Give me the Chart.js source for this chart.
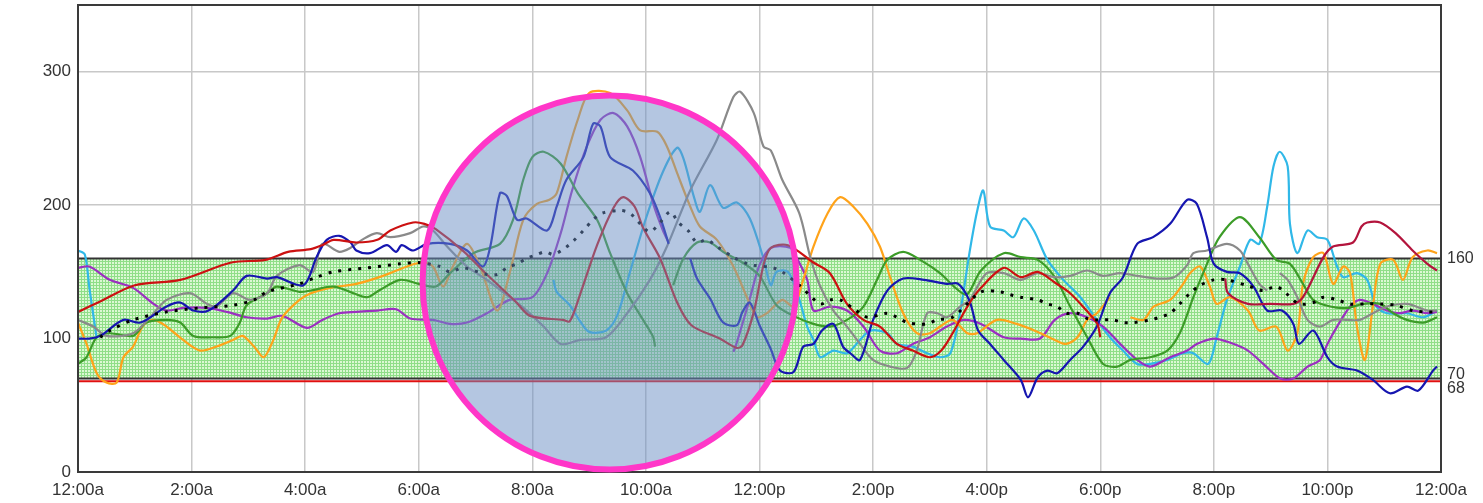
<!DOCTYPE html>
<html>
<head>
<meta charset="utf-8">
<script src="https://cdn.jsdelivr.net/npm/chart.js@4.4.1/dist/chart.umd.min.js"></script>
<style>
  html, body { margin: 0; padding: 0; background: #fff; }
  #wrap { width: 1483px; height: 503px; position: relative; }
</style>
</head>
<body>
<div id="wrap"><canvas id="GlucoseChart"></canvas></div>
<script>
'use strict'

// tick labels
var xTickLabels = ['12:00a', '2:00a', '4:00a', '6:00a', '8:00a', '10:00a', '12:00p', '2:00p', '4:00p', '6:00p', '8:00p', '10:00p', '12:00a'];
var yTickValues = [0, 100, 200, 300];
var targetHigh = 160;
var targetLow = 70;
var lowLimit = 68;

// highlight circle (hour, mg/dL)
var circleHour = 9.36;
var circleValue = 142;

// series: hours of day + readings (null = gap)
var redHours = [0, 0.4, 1.0, 1.8, 2.7, 3.3, 3.7, 4.1, 4.3, 4.5, 4.9, 5.27, 5.5, 5.9, 6.1, 6.3, 6.8, 7.2, 7.7, 7.96, 8.54, 8.66, 8.84, 9.14, 9.43, 9.6, 9.8, 9.95, 10.25, 10.55, 10.8, 11.3, 11.6, 11.7, 11.9, 12.07, 12.2, 12.5, 12.95, 13.24, 13.54, 13.83, 14.12, 14.42, 14.7, 15.0, 15.2, 15.4, 15.66, 15.9, 16.3, 16.6, 16.9, 17.2, 17.47, 17.8, 17.95, 18.0];
var redValues = [120, 128, 140, 144, 157, 159, 165, 167, 170, 174, 172, 174, 181, 187, 186, 182, 165, 148, 128, 117, 114, 113, 133, 170, 198, 206, 199, 183, 160, 127, 110, 100, 93, 95, 120, 155, 168, 170, 157, 149, 126, 114, 109, 96, 91, 86, 91, 104, 124, 138, 153, 146, 150, 142, 134, 119, 111, 101];

var crimsonHours = [20.2, 20.25, 20.6, 21.0, 21.4, 21.57, 21.93, 22.1, 22.45, 22.6, 22.7, 22.93, 23.2, 23.5, 23.76, 23.93];
var crimsonValues = [145, 134, 126, 126, 126, 131, 161, 169, 172, 184, 187, 187, 179, 166, 156, 151];

var blueHours = [0, 0.2, 0.39, 0.8, 1.1, 1.56, 1.8, 2.03, 2.3, 2.73, 2.97, 3.33, 3.5, 3.97, 4.2, 4.38, 4.6, 4.8, 4.9, 5.14, 5.44, 5.6, 5.7, 5.9, 6.15, 6.55, 6.85, 7.13, 7.26, 7.43, 7.55, 7.73, 7.9, 8.26, 8.43, 8.6, 8.9, 9.07, 9.2, 9.37, 9.77, 10.07, 10.25, 10.4, 10.6, 10.78, 10.9, 11.13, 11.36, 11.6, 11.7, 11.83, 12.0, 12.2, 12.36, 12.6, 12.77, 12.95, 13.1, 13.3, 13.47, 13.6, 13.77, 14.0, 14.25, 14.53, 14.9, 15.3, 15.5, 15.7, 15.85, 16.06, 16.3, 16.6, 16.73, 16.9, 17.07, 17.24, 17.47, 17.7, 17.94, 18.17, 18.4, 18.65, 18.93, 19.23, 19.53, 19.7, 19.88, 20.0, 20.23, 20.46, 20.7, 20.94, 21.2, 21.4, 21.5, 21.75, 22.0, 22.17, 22.52, 22.8, 23.1, 23.4, 23.6, 23.86, 23.93];
var blueValues = [100, 100, 102, 114, 112, 124, 127, 121, 121, 136, 147, 145, 146, 140, 161, 174, 177, 172, 166, 164, 170, 165, 170, 166, 171, 171, 166, 154, 169, 209, 207, 189, 190, 181, 199, 219, 236, 261, 259, 236, 226, 209, 191, 171, null, 160, 145, 130, 112, 110, 120, 127, 110, 92, 76, 75, 94, 96, 106, 111, 94, 89, 84, 114, 136, 145, 144, 141, 141, 128, 106, 96, 84, 69, 56, 71, 76, 74, 84, 94, 109, 134, 146, 171, 176, 186, 204, 201, 176, 156, 150, 149, 139, 121, 121, 111, 96, 106, 86, 79, 76, 69, 59, 64, 61, 76, 79];

var grayHours = [0, 0.27, 0.5, 0.97, 1.27, 1.56, 1.97, 2.27, 2.44, 2.73, 3.03, 3.33, 3.5, 3.9, 4.14, 4.3, 4.6, 4.8, 5.0, 5.26, 5.5, 5.85, 6.08, 6.25, 6.5, 6.85, 7.2, 7.6, 7.9, 8.2, 8.5, 8.84, 9.3, 9.67, 10.07, 10.37, 10.78, 11.25, 11.54, 11.66, 11.9, 12.07, 12.2, 12.4, 12.7, 12.9, 13.07, 13.3, 13.54, 13.77, 14.0, 14.3, 14.6, 14.77, 14.95, 15.13, 15.3, 15.53, 15.7, 16.0, 16.3, 16.6, 16.9, 17.2, 17.47, 17.77, 18.05, 18.35, 18.65, 19.0, 19.3, 19.53, 19.64, 19.88, 20.23, 20.46, 20.6, 20.8, 20.94, 21.05, 21.16, 21.3, 21.47, 21.65, 21.87, 22.1, 22.35, 22.57, 22.8, 23.05, 23.4, 23.76, 23.93];
var grayValues = [114, 109, 102, 104, 116, 129, 134, 126, 124, 134, 129, 134, 147, 155, 150, 171, 165, 168, 174, 179, 176, 179, 184, 181, 169, 154, 144, 131, 121, 109, 96, 99, 101, 119, 144, 169, 211, 249, 281, 285, 269, 244, 241, 219, 194, 160, 139, 121, 109, 96, 84, 79, 78, 91, 119, 119, 116, 124, 129, 149, 149, 144, 149, 146, 147, 151, 147, 149, 147, 145, 146, 155, 164, 166, 171, 166, 156, 141, 136, null, 149, 144, 131, 114, 109, 114, 114, 114, 119, 124, 126, 121, 121];

var greenHours = [0, 0.15, 0.33, 0.56, 0.97, 1.2, 1.56, 1.8, 2.03, 2.38, 2.68, 2.85, 2.97, 3.33, 3.5, 3.9, 4.1, 4.5, 4.85, 5.1, 5.3, 5.67, 6.0, 6.3, 6.55, 6.96, 7.43, 7.66, 7.84, 8.0, 8.2, 8.5, 8.8, 9.14, 9.37, 9.67, 9.95, 10.13, 10.16, 10.3, 10.48, 10.66, 10.9, 11.13, 11.36, 11.7, 12.0, 12.3, 12.6, 12.95, 13.24, 13.54, 13.83, 14.07, 14.25, 14.53, 14.83, 15.18, 15.45, 15.65, 15.9, 16.3, 16.6, 16.9, 17.2, 17.47, 17.77, 18.05, 18.3, 18.53, 18.88, 19.18, 19.4, 19.64, 19.88, 20.1, 20.46, 20.8, 21.1, 21.34, 21.57, 21.75, 22.05, 22.35, 22.63, 22.93, 23.16, 23.4, 23.69, 23.93];
var greenValues = [81, 86, 101, 104, 102, 112, 114, 112, 102, 101, 102, 112, 125, 134, 139, 135, 136, 139, 134, 131, 136, 144, 141, 139, 149, 164, 171, 189, 219, 236, 240, 231, 209, 189, 164, 134, 114, 101, 94, null, 140, 160, 172, 172, 165, 157, 147, 125, 117, 111, 109, 114, 124, 144, 159, 165, 159, 149, 138, 133, 151, 164, 161, 159, 146, 124, 101, 81, 79, 84, 86, 91, 104, 131, 156, 176, 191, 176, 159, 156, 141, 129, 124, 123, 126, 126, 119, 114, 112, 116];

var orangeHours = [0, 0.15, 0.33, 0.5, 0.68, 0.8, 0.97, 1.15, 1.33, 1.56, 1.85, 2.15, 2.44, 2.73, 2.9, 3.1, 3.27, 3.44, 3.6, 3.9, 4.1, 4.44, 4.9, 5.37, 5.85, 6.08, 6.25, 6.43, 6.6, 6.85, 7.08, 7.38, 7.6, 7.84, 8.08, 8.3, 8.43, 8.6, 8.8, 9.0, 9.37, 9.67, 9.9, 10.2, 10.37, 10.55, 10.78, 10.95, 11.25, 11.54, 11.83, 11.96, 12.13, 12.4, 12.6, 12.77, 12.95, 13.2, 13.42, 13.65, 13.9, 14.12, 14.3, 14.53, 14.77, 15.0, 15.18, 15.4, 15.66, 15.83, 16.18, 16.53, 16.9, 17.2, 17.4, 17.6, 17.77, 17.94, 18.17, 18.35, 18.53, 18.76, 18.94, 19.23, 19.46, 19.58, 19.76, 19.93, 20.05, 20.28, 20.6, 20.8, 21.1, 21.3, 21.47, 21.57, 21.75, 21.93, 22.1, 22.28, 22.4, 22.52, 22.66, 22.8, 22.93, 23.16, 23.33, 23.5, 23.76, 23.93];
var orangeValues = [112, 96, 74, 67, 67, 86, 94, 110, 114, 109, 99, 91, 94, 99, 102, 94, 86, 99, 116, 129, 134, 138, 141, 147, 155, 157, 154, 139, 154, 171, 154, 121, 149, 189, 201, 204, 209, 236, 264, 284, 284, 271, 256, 255, 244, 224, 199, 184, 174, 154, 126, 116, 119, 129, 124, 144, 169, 194, 206, 199, 186, 169, 146, 119, 104, 104, 109, 114, 104, 104, 114, 111, 105, 99, 96, 101, 114, 119, 131, null, 116, 114, 124, 129, 141, 149, 154, 139, 126, 131, 121, 106, 109, 91, 104, 141, 161, 164, 141, 154, 149, 109, 84, 124, 156, 159, 144, 161, 166, 164];

var purpleHours = [0, 0.2, 0.56, 0.97, 1.33, 1.56, 1.85, 2.27, 2.62, 2.97, 3.33, 3.6, 4.03, 4.3, 4.6, 4.9, 5.27, 5.6, 5.85, 6.25, 6.55, 6.85, 7.2, 7.6, 8.0, 8.26, 8.5, 8.7, 8.96, 9.2, 9.43, 9.67, 9.9, 10.13, 10.3, 10.4, 11.0, 11.54, 11.6, 11.83, 12.0, 12.2, 12.54, 12.66, 12.84, 12.95, 13.24, 13.54, 13.83, 14.12, 14.42, 14.7, 15.0, 15.3, 15.6, 15.9, 16.3, 16.6, 16.94, 17.2, 17.47, 17.77, 18.05, 18.35, 18.65, 18.88, 19.23, 19.53, 19.7, 20.0, 20.28, 20.6, 20.87, 21.17, 21.4, 21.65, 21.87, 22.0, 22.17, 22.4, 22.57, 22.8, 23.05, 23.27, 23.5, 23.76, 23.93];
var purpleValues = [153, 154, 144, 138, 126, 121, 123, 123, 120, 116, 115, 117, 108, 114, 119, 120, 121, 122, 115, 114, 111, 112, 119, 129, 131, 149, 179, 211, 244, 264, 269, 259, 236, 201, 181, 172, null, 90, 97, 130, 155, 168, 168, 160, 144, 121, 124, 121, 109, 91, 89, 96, 101, 109, 114, 111, 101, 100, 100, 114, 119, 116, 109, 96, 84, 79, 86, 91, 96, 100, 97, 91, 81, 70, 70, 79, 84, 96, 109, 124, 129, 126, 121, 119, 121, 119, 120];

var cyanHours = [0, 0.12, 0.2, 0.33, 4.0, 8.37, 8.43, 8.66, 8.84, 9.0, 9.3, 9.5, 9.72, 10.0, 10.3, 10.55, 10.66, 10.84, 10.95, 11.13, 11.36, 11.6, 11.83, 12.07, 12.2, 12.3, 12.5, 12.66, 12.84, 12.95, 13.07, 13.3, 13.54, 13.77, 13.95, 14.25, 14.42, 14.7, 14.95, 15.18, 15.36, 15.53, 15.7, 15.83, 15.94, 16.06, 16.3, 16.47, 16.65, 16.83, 17.07, 17.35, 17.65, 17.94, 18.17, 18.4, 18.65, 18.88, 19.18, 19.46, 19.64, 19.9, 20.05, 20.23, 20.46, 20.64, 20.8, 20.94, 21.05, 21.16, 21.3, 21.34, 21.47, 21.65, 21.82, 22.0, 22.17, 22.28, 22.52, 22.7, 22.86, 23.05, 23.4, 23.69, 23.93];
var cyanValues = [166, 163, 138, 100, null, 144, 135, 125, 113, 105, 106, 118, 150, 190, 225, 243, 235, 207, 195, 215, 198, 202, 190, 160, 140, 150, 150, 135, 109, 99, 86, 91, 89, 99, 106, 104, 96, 94, 89, 86, 89, 119, 165, 195, 211, 184, 181, 176, 190, 181, 159, 144, 131, 114, 101, 91, 81, 81, 84, 89, 89, 81, 101, 129, 154, 174, 171, 199, 229, 240, 229, 186, 164, 181, 176, 174, 154, 146, 149, 144, 124, 119, 119, 116, 121];

var avgHours = [0.39, 0.56, 0.97, 1.56, 2.15, 2.73, 3.1, 3.33, 3.9, 4.2, 4.5, 5.1, 5.67, 6.0, 6.37, 6.55, 6.78, 7.2, 7.38, 7.55, 7.73, 7.9, 8.08, 8.23, 8.37, 8.58, 8.72, 8.9, 9.07, 9.23, 9.55, 9.72, 9.9, 10.07, 10.25, 10.43, 10.57, 10.74, 10.9, 11.07, 11.25, 11.54, 11.78, 11.9, 12.24, 12.4, 12.7, 13.07, 13.24, 13.42, 13.7, 13.9, 14.25, 14.42, 14.6, 14.77, 14.95, 15.13, 15.4, 15.9, 16.24, 16.4, 16.6, 16.9, 17.07, 17.24, 17.4, 17.6, 17.77, 17.94, 18.23, 18.4, 18.58, 18.88, 19.05, 19.23, 19.4, 19.58, 19.76, 20.0, 20.23, 20.64, 20.87, 21.1, 21.27, 21.5, 21.75, 21.93, 22.17, 22.4, 22.7, 22.93, 23.2, 23.5, 23.76, 23.93];
var avgValues = [101, 106, 114, 120, 123, 125, 129, 135, 141, 146, 150, 153, 156, 157, 154, 150, 153, 148, 148, 153, 156, 160, 163, 165, 163, 168, 173, 181, 189, 194, 196, 194, 186, 180, 187, 195, 187, 181, 172, 174, 169, 161, 156, 155, 153, 150, 140, 126, 129, 129, 121, 116, 119, 116, 112, 111, 111, 114, 116, 135, 135, 133, 131, 129, 126, 124, 119, 119, 115, 114, 114, 112, 112, 114, 116, 119, 126, 134, 140, 144, 144, 139, 136, 139, 134, 126, 127, 131, 129, 126, 126, 126, 125, 121, 120, 120];

function pairs(hours, values) {
  return hours.map(function (h, i) { return { x: h, y: values[i] }; });
}

function line(label, hours, values, color) {
  return {
    label: label,
    data: pairs(hours, values),
    borderColor: color,
    borderWidth: 2.2,
    pointRadius: 0,
    tension: 0.3,
    spanGaps: false,
    fill: false
  };
}

/*----Band + frame + circle----*/
var overlays = {
  id: 'overlays',
  beforeDatasetsDraw: function (chart) {
    var ctx = chart.ctx, a = chart.chartArea, y = chart.scales.y;
    var tile = document.createElement('canvas');
    tile.width = 3; tile.height = 3;
    var g = tile.getContext('2d');
    g.fillStyle = '#d8f8d0'; g.fillRect(0, 0, 3, 3);
    g.fillStyle = '#86dc7e'; g.fillRect(0, 0, 3, 1); g.fillRect(0, 0, 1, 3);
    var top = y.getPixelForValue(targetHigh), bot = y.getPixelForValue(targetLow);
    ctx.save();
    ctx.globalAlpha = 0.92;
    ctx.fillStyle = ctx.createPattern(tile, 'repeat');
    ctx.fillRect(a.left, top, a.right - a.left, bot - top);
    ctx.globalAlpha = 1;
    ctx.lineWidth = 2;
    ctx.strokeStyle = '#333';
    ctx.beginPath();
    ctx.moveTo(a.left, top); ctx.lineTo(a.right, top);
    ctx.moveTo(a.left, bot); ctx.lineTo(a.right, bot);
    ctx.stroke();
    var low = y.getPixelForValue(lowLimit);
    ctx.strokeStyle = '#e01010';
    ctx.beginPath();
    ctx.moveTo(a.left, low); ctx.lineTo(a.right, low);
    ctx.stroke();
    ctx.restore();
  },
  afterDatasetsDraw: function (chart) {
    var ctx = chart.ctx, a = chart.chartArea, x = chart.scales.x, y = chart.scales.y;
    ctx.save();
    ctx.lineWidth = 2;
    ctx.strokeStyle = '#3a3a3a';
    ctx.strokeRect(a.left, a.top, a.right - a.left, a.bottom - a.top);
    // highlight circle
    var cx = x.getPixelForValue(circleHour), cy = y.getPixelForValue(circleValue);
    ctx.beginPath();
    ctx.arc(cx, cy, 187, 0, Math.PI * 2);
    ctx.fillStyle = 'rgba(105, 141, 195, 0.5)';
    ctx.fill();
    ctx.lineWidth = 6;
    ctx.strokeStyle = '#ff36c8';
    ctx.stroke();
    // right side labels
    ctx.fillStyle = '#333';
    ctx.font = '16px "Liberation Sans", Arial, sans-serif';
    ctx.textAlign = 'left';
    ctx.textBaseline = 'middle';
    ctx.fillText(String(targetHigh), a.right + 6, y.getPixelForValue(targetHigh));
    ctx.fillText(String(targetLow), a.right + 6, y.getPixelForValue(targetLow) - 4);
    ctx.fillText(String(lowLimit), a.right + 6, y.getPixelForValue(lowLimit) + 7);
    ctx.restore();
  }
};

var ctx = document.getElementById('GlucoseChart');
var myChart = new Chart(ctx, {
  type: 'line',
  data: {
    datasets: [
      line('Average', avgHours, avgValues, '#000'),
      line('Day 1', redHours, redValues, '#cc1111'),
      line('Day 2', crimsonHours, crimsonValues, '#b3143c'),
      line('Day 3', blueHours, blueValues, '#1616b0'),
      line('Day 4', grayHours, grayValues, '#8a8a8a'),
      line('Day 5', greenHours, greenValues, '#3c9c28'),
      line('Day 6', orangeHours, orangeValues, '#ffa31a'),
      line('Day 7', purpleHours, purpleValues, '#9b30c0'),
      line('Day 8', cyanHours, cyanValues, '#30b8e8')
    ]
  },
  options: {
    responsive: true,
    maintainAspectRatio: false,
    animation: false,
    layout: { padding: { top: 5, right: 42, left: 0, bottom: 0 } },
    plugins: {
      legend: { display: false },
      tooltip: { enabled: false }
    },
    scales: {
      x: {
        type: 'linear',
        min: 0,
        max: 24,
        afterFit: function (s) { s.height = 31; s.paddingLeft = 0; s.paddingRight = 0; },
        ticks: {
          stepSize: 2,
          autoSkip: false,
          maxRotation: 0,
          padding: 8,
          color: '#333',
          font: { family: '"Liberation Sans", Arial, sans-serif', size: 17 },
          callback: function (v) { return xTickLabels[v / 2]; }
        },
        grid: { color: '#c8c8c8', lineWidth: 1.5, drawTicks: false },
        border: { display: false }
      },
      y: {
        min: 0,
        max: 350,
        afterFit: function (s) { s.width = 78; s.paddingTop = 0; s.paddingBottom = 0; },
        afterBuildTicks: function (s) {
          s.ticks = yTickValues.map(function (v) { return { value: v }; });
        },
        ticks: {
          padding: 7,
          color: '#333',
          font: { family: '"Liberation Sans", Arial, sans-serif', size: 17 }
        },
        grid: { color: '#c8c8c8', lineWidth: 1.5, drawTicks: false },
        border: { display: false }
      }
    }
  },
  plugins: [overlays]
});
// dotted average line
myChart.data.datasets[0].borderDash = [3, 7];
myChart.data.datasets[0].borderWidth = 3;
myChart.update();
</script>
</body>
</html>
